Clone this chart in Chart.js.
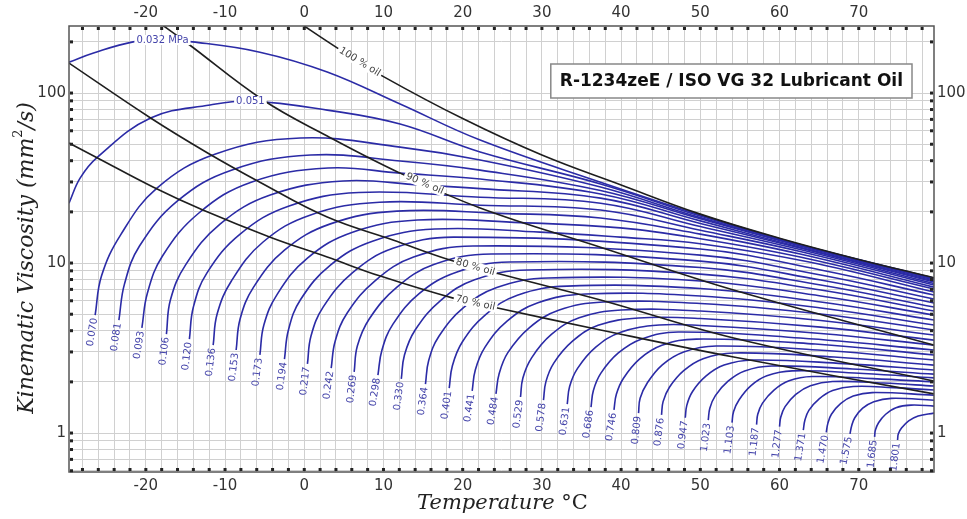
<!DOCTYPE html>
<html>
<head>
<meta charset="utf-8">
<title>R-1234zeE / ISO VG 32 Lubricant Oil</title>
<script src="https://cdn.jsdelivr.net/npm/chart.js@4.4.1/dist/chart.umd.min.js"></script>
<style>
  html, body { margin: 0; padding: 0; background: #fff; }
  #wrap { position: relative; width: 967px; height: 519px; }
</style>
</head>
<body>
<div id="wrap"><canvas id="viscChart"></canvas></div>
<script>
// Axis ranges: temperature (degC) and kinematic viscosity (mm2/s)
const tempRange = [-29.7, 79.5];
const viscRange = [0.59, 248];

// Grid positions and labelled ticks
const tempGrid = [];
for (let t = -28; t <= 78; t += 2) tempGrid.push(t);
const viscGrid = [0.6, 0.7, 0.8, 0.9, 1, 2, 3, 4, 5, 6, 7, 8, 9, 10, 20, 30, 40, 50, 60, 70, 80, 90, 100, 200];
const tempLabels = [-20, -10, 0, 10, 20, 30, 40, 50, 60, 70];
const viscLabels = [1, 10, 100];

const chartTitle = 'R-1234zeE / ISO VG 32 Lubricant Oil';

// Lines of constant oil mass fraction
const oilNames = ['100 % oil', '90 % oil', '80 % oil', '70 % oil'];
const oilTemps = [
  [-1.0, 0.0, 5.0, 10.0, 20.0, 30.0, 40.0, 50.0, 60.0, 70.0, 79.5],
  [-18.8, -14.8, -5.2, 2.9, 12.1, 22.2, 37.4, 54.2, 79.5],
  [-29.7, -19.4, -12.2, -5.6, 2.9, 11.2, 18.4, 24.7, 37.4, 54.2, 79.5],
  [-29.7, -26.1, -19.1, -12.8, -4.3, 2.9, 9.6, 18.8, 24.4, 37.4, 54.2, 79.5]
];
const oilVisc = [
  [268, 248, 174, 125, 70.8, 43.2, 28.8, 19.4, 14.0, 10.5, 8.2],
  [269, 197, 91.0, 55.9, 33.8, 21.1, 12.4, 6.94, 3.29],
  [150, 71.3, 44.4, 29.9, 18.65, 13.66, 10.41, 8.61, 6.06, 3.62, 2.02],
  [50.8, 41.5, 28.0, 20.5, 14.2, 10.85, 8.38, 6.22, 5.44, 4.04, 2.80, 1.70]
];
const oilLabelTemps = [7.0, 15.2, 21.6, 21.6];

// Isobars, pressure in MPa
const isobarNames = ['0.032 MPa', '0.051', '0.070', '0.081', '0.093', '0.106', '0.120', '0.136',
  '0.153', '0.173', '0.194', '0.217', '0.242', '0.269', '0.298', '0.330', '0.364', '0.401',
  '0.441', '0.484', '0.529', '0.578', '0.631', '0.686', '0.746', '0.809', '0.876', '0.947',
  '1.023', '1.103', '1.187', '1.277', '1.371', '1.470', '1.575', '1.685', '1.801'];
const isobarTemps = [
  [-29.7, -26.6, -21.6, -17.9, -14.1, -5.6, 2.9, 12.1, 22.2, 37.4, 50.0, 62.6, 79.5],
  [-29.7, -28.3, -26.1, -19.4, -11.9, -6.8, 2.9, 12.1, 22.2, 37.4, 50.0, 62.6, 79.5],
  [-26.4, -25.6, -23.2, -18.6, -11.2, -0.5, 12.1, 22.2, 37.4, 50.0, 62.6, 79.5],
  [-23.4, -22.7, -20.8, -16.0, -9.2, 0.8, 12.1, 22.2, 37.4, 50.0, 62.6, 79.5],
  [-20.5, -19.8, -17.9, -13.3, -6.7, 3.0, 12.1, 22.2, 37.4, 50.0, 62.6, 79.5],
  [-17.4, -16.9, -15.0, -10.6, -4.3, 4.9, 14.6, 22.2, 37.4, 50.0, 62.6, 79.5],
  [-14.5, -14.0, -12.3, -8.1, -2.0, 6.9, 22.2, 37.4, 50.0, 62.6, 79.5],
  [-11.5, -11.0, -9.2, -5.2, 0.8, 9.5, 22.2, 37.4, 50.0, 62.6, 79.5],
  [-8.6, -8.1, -6.4, -2.5, 3.3, 11.7, 24.7, 37.4, 50.0, 62.6, 79.5],
  [-5.6, -5.1, -3.4, 0.4, 6.1, 14.3, 27.3, 39.9, 50.0, 62.6, 79.5],
  [-2.5, -2.0, -0.5, 3.3, 8.7, 16.5, 29.8, 39.9, 50.0, 63.9, 79.5],
  [0.4, 0.85, 2.4, 6.1, 11.2, 18.9, 50.0, 65.2, 79.5],
  [3.4, 3.9, 5.4, 9.0, 13.8, 21.3, 50.0, 65.2, 79.5],
  [6.3, 6.7, 8.2, 11.7, 16.35, 23.6, 50.0, 65.2, 79.5],
  [9.3, 9.8, 11.2, 14.5, 19.2, 25.9, 50.0, 65.2, 79.5],
  [12.25, 12.65, 14.0, 17.2, 21.5, 28.2, 50.0, 65.2, 79.5],
  [15.3, 15.7, 17.0, 20.1, 24.3, 30.8, 50.0, 65.2, 79.5],
  [18.3, 18.7, 19.95, 22.9, 26.9, 33.2, 50.0, 65.2, 79.5],
  [21.2, 21.6, 22.8, 25.6, 29.5, 35.5, 50.0, 65.2, 79.5],
  [24.2, 24.6, 25.7, 28.4, 32.1, 37.75, 50.0, 65.2, 79.5],
  [27.3, 27.6, 28.7, 31.2, 34.7, 40.0, 50.0, 65.2, 79.5],
  [30.2, 30.5, 31.5, 33.9, 37.1, 42.2, 50.0, 65.2, 79.5],
  [33.2, 33.5, 34.5, 36.8, 39.95, 44.8, 50.0, 65.2, 79.5],
  [36.2, 36.5, 37.45, 39.65, 42.6, 47.2, 62.6, 79.5],
  [39.1, 39.4, 40.3, 42.35, 45.15, 49.5, 64.5, 79.5],
  [42.2, 42.4, 43.3, 45.2, 47.9, 52.0, 65.8, 79.5],
  [45.1, 45.3, 46.1, 47.9, 50.35, 54.2, 66.9, 79.5],
  [48.1, 48.3, 49.0, 50.7, 53.0, 56.6, 68.1, 79.5],
  [51.0, 51.2, 51.9, 53.5, 55.6, 59.0, 69.2, 79.5],
  [54.0, 54.2, 54.9, 56.4, 58.4, 61.6, 70.6, 79.5],
  [57.1, 57.25, 57.85, 59.3, 61.2, 64.1, 71.8, 79.5],
  [60.0, 60.15, 60.7, 62.05, 63.9, 66.7, 73.1, 79.5],
  [63.0, 63.2, 63.7, 65.0, 66.7, 69.3, 74.4, 79.5],
  [65.9, 66.1, 66.55, 67.7, 69.3, 71.7, 79.5],
  [68.9, 69.1, 69.5, 70.5, 71.9, 74.1, 79.5],
  [72.0, 72.1, 72.5, 73.4, 74.7, 76.6, 79.5],
  [74.9, 75.0, 75.4, 76.3, 77.5, 79.5]
];
const isobarVisc = [
  [152, 172, 200, 205, 200, 174, 133, 86.2, 52.9, 29.9, 19.2, 12.85, 8.16],
  [22.5, 31.6, 42.0, 71.3, 85.0, 89.7, 79.4, 65.7, 45.0, 29.2, 18.9, 12.8, 8.11],
  [4.94, 8.38, 14.6, 27.6, 43.8, 54.4, 48.1, 40.4, 28.0, 18.5, 12.7, 8.05],
  [4.62, 7.52, 12.6, 23.2, 35.2, 43.2, 39.8, 35.2, 26.7, 18.2, 12.6, 7.94],
  [4.15, 6.66, 11.0, 19.7, 29.9, 36.2, 33.8, 31.2, 25.5, 17.7, 12.4, 7.84],
  [3.82, 6.06, 9.73, 17.0, 25.1, 30.4, 28.8, 27.4, 24.1, 17.1, 12.25, 7.73],
  [3.57, 5.51, 8.73, 14.8, 21.6, 26.0, 24.4, 22.5, 16.4, 12.0, 7.58],
  [3.29, 5.01, 7.84, 13.3, 19.2, 22.8, 21.9, 20.5, 15.6, 11.7, 7.42],
  [3.08, 4.69, 7.22, 11.9, 17.0, 20.2, 19.6, 18.4, 14.8, 11.3, 7.22],
  [2.88, 4.32, 6.57, 10.7, 15.2, 17.9, 17.3, 16.1, 13.9, 10.85, 7.03],
  [2.72, 4.04, 6.06, 9.73, 13.5, 15.85, 15.2, 14.2, 13.0, 10.1, 6.75],
  [2.55, 3.72, 5.52, 8.78, 12.2, 14.2, 12.1, 9.10, 6.48],
  [2.41, 3.47, 5.07, 7.92, 10.85, 12.6, 11.14, 8.50, 6.14],
  [2.29, 3.25, 4.69, 7.22, 9.79, 11.3, 10.27, 7.94, 5.82],
  [2.19, 3.07, 4.37, 6.61, 8.83, 10.14, 9.41, 7.42, 5.51],
  [2.08, 2.88, 4.04, 6.02, 7.97, 9.10, 8.61, 6.94, 5.22],
  [1.94, 2.66, 3.71, 5.46, 7.18, 8.16, 7.84, 6.40, 4.94],
  [1.84, 2.49, 3.43, 4.97, 6.47, 7.32, 7.08, 5.90, 4.62],
  [1.77, 2.36, 3.19, 4.55, 5.84, 6.57, 6.40, 5.44, 4.32],
  [1.70, 2.23, 2.97, 4.16, 5.27, 5.90, 5.78, 5.01, 4.04],
  [1.63, 2.11, 2.77, 3.80, 4.76, 5.29, 5.22, 4.59, 3.77],
  [1.56, 2.00, 2.58, 3.48, 4.30, 4.75, 4.72, 4.20, 3.52],
  [1.48, 1.88, 2.40, 3.20, 3.92, 4.32, 4.29, 3.85, 3.29],
  [1.42, 1.78, 2.25, 2.96, 3.58, 3.93, 3.62, 3.08],
  [1.37, 1.69, 2.10, 2.73, 3.28, 3.57, 3.34, 2.88],
  [1.31, 1.60, 1.97, 2.52, 3.00, 3.25, 3.06, 2.69],
  [1.28, 1.53, 1.86, 2.33, 2.74, 2.96, 2.80, 2.51],
  [1.23, 1.46, 1.75, 2.16, 2.51, 2.69, 2.56, 2.35],
  [1.19, 1.40, 1.66, 2.02, 2.32, 2.48, 2.38, 2.22],
  [1.15, 1.34, 1.57, 1.90, 2.17, 2.32, 2.24, 2.11],
  [1.12, 1.29, 1.50, 1.79, 2.03, 2.15, 2.09, 2.00],
  [1.09, 1.24, 1.43, 1.69, 1.90, 2.01, 1.97, 1.89],
  [1.04, 1.19, 1.36, 1.59, 1.78, 1.88, 1.85, 1.79],
  [1.01, 1.14, 1.29, 1.49, 1.65, 1.73, 1.67],
  [0.99, 1.10, 1.23, 1.40, 1.53, 1.60, 1.56],
  [0.95, 1.04, 1.15, 1.29, 1.41, 1.46, 1.44],
  [0.91, 0.99, 1.07, 1.18, 1.26, 1.31]
];
// the two lowest pressures are labelled on the curve itself, the rest at their start
const isobarInlineTemps = [-17.9, -6.8];

const lineColor = '#1e1e1e';
const isobarColor = '#2b2ba6';
const isobarTextColor = '#4444aa';
const gridColor = '#d0d0d0';

Chart.defaults.font.family = '"DejaVu Sans", sans-serif';
Chart.defaults.font.size = 15;
Chart.defaults.color = '#333';

const datasets = [];
oilNames.forEach((name, i) => {
  datasets.push({
    label: name,
    data: oilTemps[i].map((t, j) => ({ x: t, y: oilVisc[i][j] })),
    borderColor: lineColor,
    borderWidth: 1.6,
    pointRadius: 0,
    tension: 0.4,
    fill: false
  });
});
isobarNames.forEach((name, i) => {
  datasets.push({
    label: name,
    data: isobarTemps[i].map((t, j) => ({ x: t, y: isobarVisc[i][j] })),
    borderColor: isobarColor,
    borderWidth: 1.6,
    pointRadius: 0,
    tension: 0.4,
    fill: false
  });
});

// position on a drawn line at a given pixel x, with the local slope angle
function pointAt(meta, px) {
  const pts = meta.data;
  for (let i = 1; i < pts.length; i++) {
    const a = pts[i - 1], b = pts[i];
    if (px >= a.x && px <= b.x) {
      const f = (px - a.x) / ((b.x - a.x) || 1);
      return { x: px, y: a.y + f * (b.y - a.y), angle: Math.atan2(b.y - a.y, b.x - a.x) };
    }
  }
  return null;
}

function inlineLabel(ctx, text, p, color) {
  ctx.save();
  ctx.translate(p.x, p.y);
  ctx.rotate(p.angle);
  const w = ctx.measureText(text).width;
  ctx.fillStyle = '#fff';
  ctx.fillRect(-w / 2 - 2, -5, w + 4, 10);
  ctx.fillStyle = color;
  ctx.fillText(text, 0, 0);
  ctx.restore();
}

const decorPlugin = {
  id: 'decor',
  beforeDraw(chart) {
    const c = chart.ctx;
    c.save();
    c.fillStyle = '#fff';
    c.fillRect(0, 0, chart.width, chart.height);
    c.restore();
  },
  afterDatasetsDraw(chart) {
    const c = chart.ctx;
    const xs = chart.scales.x;
    c.save();
    c.font = '10px "DejaVu Sans"';
    c.textBaseline = 'middle';
    c.textAlign = 'center';

    // oil fraction labels sit on their lines
    oilNames.forEach((name, i) => {
      const p = pointAt(chart.getDatasetMeta(i), xs.getPixelForValue(oilLabelTemps[i]));
      if (p) inlineLabel(c, name, p, '#444');
    });

    isobarNames.forEach((name, i) => {
      const meta = chart.getDatasetMeta(oilNames.length + i);
      if (i < isobarInlineTemps.length) {
        const p = pointAt(meta, xs.getPixelForValue(isobarInlineTemps[i]) + 0.01);
        if (p) inlineLabel(c, name, { x: p.x, y: p.y, angle: 0 }, isobarTextColor);
        return;
      }
      const p0 = meta.data[0], p1 = meta.data[1];
      const ang = Math.atan2(p1.y - p0.y, p1.x - p0.x);
      c.save();
      c.translate(p0.x, p0.y);
      c.rotate(ang);
      c.textAlign = 'right';
      c.fillStyle = isobarTextColor;
      c.fillText(name, -3, 0);
      c.restore();
    });
    c.restore();
  },
  afterDraw(chart) {
    const c = chart.ctx;
    const a = chart.chartArea;
    const xs = chart.scales.x, ys = chart.scales.y;
    c.save();

    // frame and dotted tick marks
    c.strokeStyle = '#555';
    c.lineWidth = 1.5;
    c.strokeRect(a.left, a.top, a.right - a.left, a.bottom - a.top);
    c.fillStyle = '#222';
    tempGrid.forEach(t => {
      const x = xs.getPixelForValue(t);
      c.fillRect(x - 1.5, a.top + 1, 3, 3);
      c.fillRect(x - 1.5, a.bottom - 4, 3, 3);
    });
    viscGrid.forEach(v => {
      const y = ys.getPixelForValue(v);
      c.fillRect(a.left + 1, y - 1.5, 3, 3);
      c.fillRect(a.right - 4, y - 1.5, 3, 3);
    });

    // title box
    c.font = 'bold 17px "DejaVu Sans"';
    const tw = c.measureText(chartTitle).width;
    const bw = tw + 18, bh = 34;
    const bx = a.right - 22 - bw, by = a.top + 38;
    c.fillStyle = '#fff';
    c.fillRect(bx, by, bw, bh);
    c.strokeStyle = '#888';
    c.lineWidth = 1.5;
    c.strokeRect(bx, by, bw, bh);
    c.fillStyle = '#111';
    c.textAlign = 'center';
    c.textBaseline = 'middle';
    c.fillText(chartTitle, bx + bw / 2, by + bh / 2 + 1);

    // x axis title
    c.fillStyle = '#222';
    c.textBaseline = 'alphabetic';
    c.textAlign = 'left';
    const xMain = 'italic 21px "DejaVu Serif"', xUnit = '21px "DejaVu Serif"';
    c.font = xMain;
    const w1 = c.measureText('Temperature ').width;
    c.font = xUnit;
    const w2 = c.measureText('°C').width;
    let tx = (a.left + a.right) / 2 + 1 - (w1 + w2) / 2;
    c.font = xMain;
    c.fillText('Temperature ', tx, 509);
    c.font = xUnit;
    c.fillText('°C', tx + w1, 509);

    // y axis title with superscript
    const parts = [
      ['Kinematic Viscosity (mm', 'italic 22px "DejaVu Serif"', 0],
      ['2', '13px "DejaVu Serif"', -8],
      ['/s)', 'italic 22px "DejaVu Serif"', 0]
    ];
    c.translate(27, 258);
    c.rotate(-Math.PI / 2);
    let total = 0;
    parts.forEach(p => { c.font = p[1]; total += c.measureText(p[0]).width; });
    let px = -total / 2;
    c.textBaseline = 'middle';
    parts.forEach(p => {
      c.font = p[1];
      c.fillText(p[0], px, p[2]);
      px += c.measureText(p[0]).width;
    });
    c.restore();
  }
};

const tempTick = v => tempLabels.includes(v) ? String(v) : '';
const viscTick = v => viscLabels.includes(v) ? String(v) : '';

new Chart(document.getElementById('viscChart'), {
  type: 'line',
  data: { datasets },
  plugins: [decorPlugin],
  options: {
    responsive: true,
    maintainAspectRatio: false,
    animation: false,
    devicePixelRatio: 1,
    events: [],
    layout: { padding: 0 },
    plugins: {
      legend: { display: false },
      tooltip: { enabled: false }
    },
    scales: {
      x: {
        type: 'linear',
        position: 'bottom',
        min: tempRange[0],
        max: tempRange[1],
        afterBuildTicks: s => { s.ticks = tempGrid.map(v => ({ value: v })); },
        afterFit: s => { s.height = 47; },
        grid: { color: gridColor, lineWidth: 1, drawTicks: false },
        border: { display: false },
        ticks: { callback: tempTick, autoSkip: false, maxRotation: 0, padding: 5 }
      },
      xTop: {
        type: 'linear',
        position: 'top',
        min: tempRange[0],
        max: tempRange[1],
        afterBuildTicks: s => { s.ticks = tempGrid.map(v => ({ value: v })); },
        afterFit: s => { s.height = 26; },
        grid: { display: false, drawTicks: false },
        border: { display: false },
        ticks: { callback: tempTick, autoSkip: false, maxRotation: 0, padding: 4 }
      },
      y: {
        type: 'logarithmic',
        position: 'left',
        min: viscRange[0],
        max: viscRange[1],
        afterBuildTicks: s => { s.ticks = viscGrid.map(v => ({ value: v })); },
        afterFit: s => { s.width = 69; },
        grid: { color: gridColor, lineWidth: 1, drawTicks: false },
        border: { display: false },
        ticks: { callback: viscTick, autoSkip: false, padding: 3 }
      },
      yRight: {
        type: 'logarithmic',
        position: 'right',
        min: viscRange[0],
        max: viscRange[1],
        afterBuildTicks: s => { s.ticks = viscGrid.map(v => ({ value: v })); },
        afterFit: s => { s.width = 33; },
        grid: { display: false, drawTicks: false },
        border: { display: false },
        ticks: { callback: viscTick, autoSkip: false, padding: 3 }
      }
    }
  }
});
</script>
</body>
</html>
